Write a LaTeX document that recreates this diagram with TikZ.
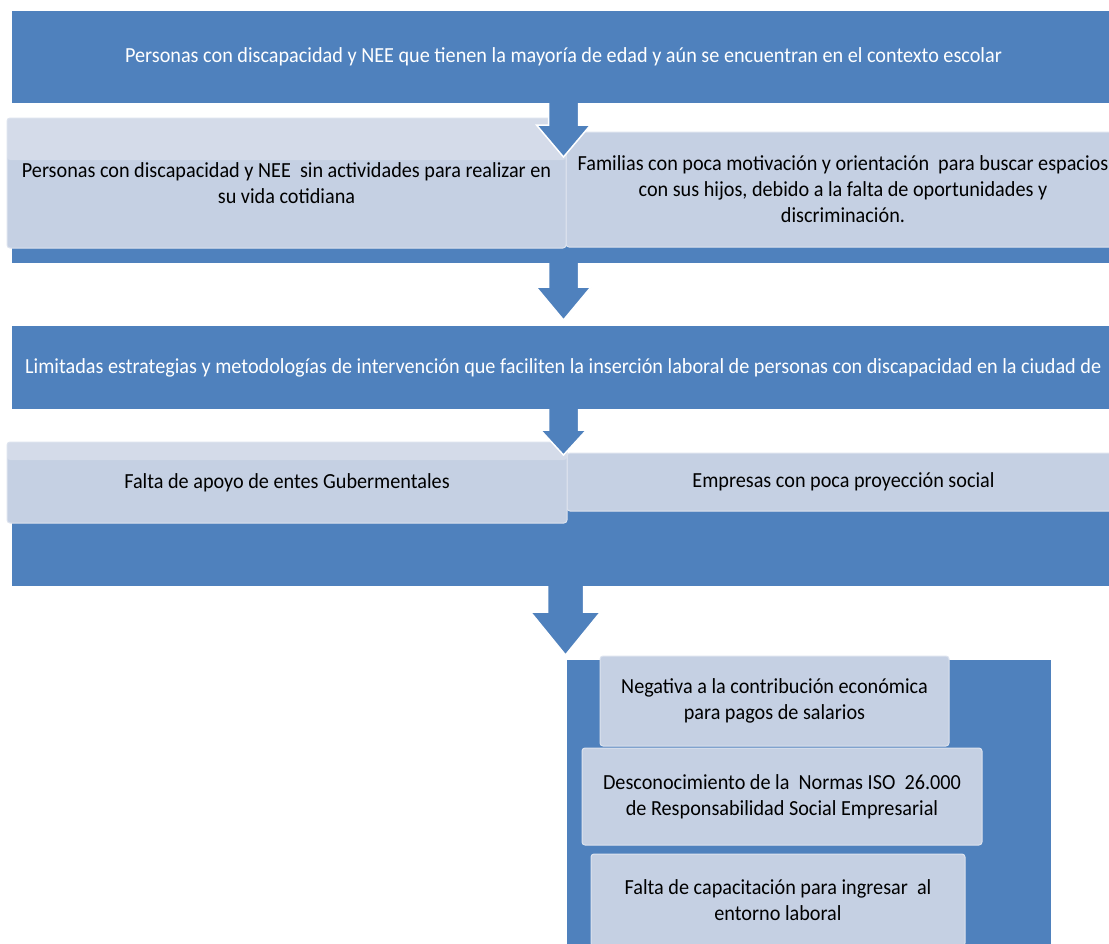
\documentclass[tikz,border=0pt]{standalone}
\usepackage{fontspec}
\setmainfont{Carlito}[FakeStretch=0.94]
\usetikzlibrary{calc}
\definecolor{barblue}{RGB}{79,129,189}
\definecolor{boxfill}{RGB}{197,208,227}
\definecolor{boxtop}{RGB}{212,219,233}
\definecolor{boxedge}{RGB}{221,227,238}

% block arrow: start anchor, length, shaft half width, head half width, head length
\newcommand{\flowarrow}[5]{%
\filldraw[barblue,draw=white,line width=1.5pt] let \p1=(#1) in
  (\x1-#3pt,\y1) -- (\x1-#3pt,\y1-#2pt+#5pt) -- (\x1-#4pt,\y1-#2pt+#5pt) -- (\x1,\y1-#2pt)
  -- (\x1+#4pt,\y1-#2pt+#5pt) -- (\x1+#3pt,\y1-#2pt+#5pt) -- (\x1+#3pt,\y1);}

\begin{document}
\begin{tikzpicture}[x=1pt,y=1pt,every node/.style={font=\fontsize{21.5}{26}\selectfont},
  bar/.style={fill=barblue,inner sep=0pt,outer sep=0pt,text=white,anchor=north west},
  lbox/.style={fill=boxfill,draw=boxedge,line width=1pt,rounded corners=3pt,inner sep=0pt,
    outer sep=0pt,align=center,anchor=north west},
  lboxtop/.style={path picture={\fill[boxtop] (path picture bounding box.north west)
    rectangle ([yshift=-#1]path picture bounding box.north east);}}]
\useasboundingbox (0,0) rectangle (1109,-943);
\clip (0,0) rectangle (1109,-943);
% first level
\node[bar,minimum width=1103,minimum height=92] (adult) at (12,-11)
  {Personas con discapacidad y NEE que tienen la mayoría de edad y aún se encuentran en el contexto escolar};
\node[bar,minimum width=1103,minimum height=63] (band1) at (12,-200) {};
\node[lbox,minimum width=554,minimum height=115] (family) at (566,-132)
  {Familias con poca motivación y orientación\ \ para buscar espacios\\con sus hijos, debido a la falta de oportunidades y\\discriminación.};
\node[lbox,lboxtop=42pt,minimum width=559,minimum height=130] (noact) at (7,-118)
  {Personas con discapacidad y NEE\ \ sin actividades para realizar en\\su vida cotidiana};
\flowarrow{adult.south}{54}{15}{27}{32}
\flowarrow{band1.south}{57}{15}{27.5}{33}
% second level
\node[bar,minimum width=1103,minimum height=83] (limit) at (12,-326) {};
\node[text=white,anchor=west,inner sep=0pt] (limittxt) at ([xshift=13pt]limit.west)
  {Limitadas estrategias y metodologías de intervención que faciliten la inserción laboral de personas con discapacidad en la ciudad de};
\node[bar,minimum width=1103,minimum height=116] (band2) at (12,-470) {};
\node[lbox,minimum width=553,minimum height=58] (firms) at (567,-453)
  {Empresas con poca proyección social};
\node[lbox,lboxtop=18pt,minimum width=560,minimum height=81] (govt) at (7,-442)
  {Falta de apoyo de entes Gubermentales};
\flowarrow{limit.south}{46}{15}{23}{25}
\flowarrow{[xshift=2pt]band2.south}{69}{18}{35}{43}
% third level
\node[bar,minimum width=484,minimum height=290] (panel) at (567,-660) {};
\node[lbox,minimum width=349,minimum height=90] (wages) at (600,-656)
  {Negativa a la contribución económica\\para pagos de salarios};
\node[lbox,minimum width=400,minimum height=97] (iso) at (582,-748)
  {Desconocimiento de la\ \ Normas ISO\ \ 26.000\\de Responsabilidad Social Empresarial};
\node[lbox,minimum width=374,minimum height=92] (train) at (591,-854)
  {Falta de capacitación para ingresar\ \ al\\entorno laboral};
\end{tikzpicture}
\end{document}
